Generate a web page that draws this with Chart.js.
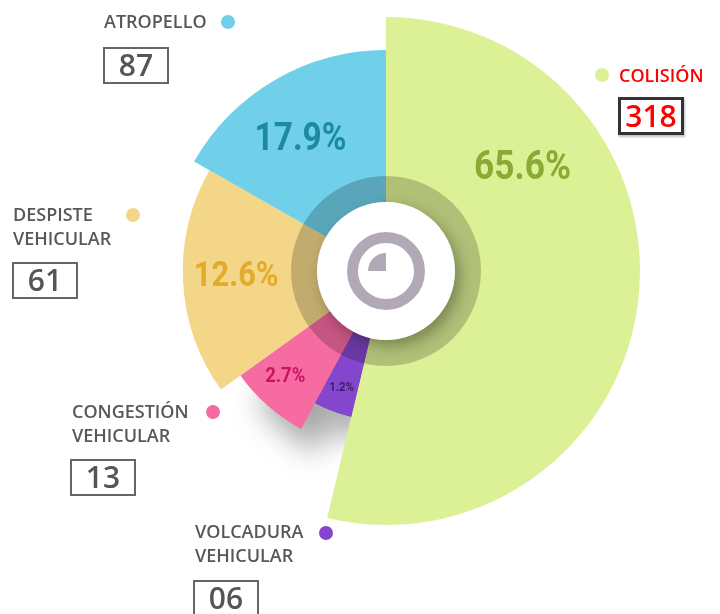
<!DOCTYPE html>
<html>
<head>
<meta charset="utf-8">
<script src="https://cdn.jsdelivr.net/npm/chart.js@4"></script>
<style>
  body { margin: 0; background: #fff; }
  #wrap { position: relative; width: 720px; height: 614px; overflow: hidden; font-family: 'Open Sans', 'Noto Sans', sans-serif; }
  #wrap canvas { position: absolute; left: 0; top: 0; }
  .tag { position: absolute; color: #585858; font-weight: 600; font-size: 18px; line-height: 23.5px; white-space: nowrap; }
  .dot { position: absolute; width: 14px; height: 14px; border-radius: 50%; }
  .box { position: absolute; box-sizing: border-box; width: 66px; height: 37px; border: 2px solid #666; color: #555;
         font-size: 30px; font-weight: 600; line-height: 32px; text-align: center; background: #fff; }
</style>
</head>
<body>
<div id="wrap">
  <canvas id="pie" width="720" height="614"></canvas>
</div>
<script>
// order is clockwise from 12 o'clock, as in the picture
var categories = ['COLISIÓN', 'VOLCADURA\nVEHICULAR', 'CONGESTIÓN\nVEHICULAR', 'DESPISTE\nVEHICULAR', 'ATROPELLO'];
var counts = [318, 6, 13, 61, 87];
var countText = ['318', '06', '13', '61', '87'];

var colors = ['#dcf195', '#8446cc', '#f76ba3', '#f3d687', '#70d0e9'];
var textColors = ['#8aaa34', '#3b1c6b', '#c9135f', '#e2ab2a', '#1e89a2'];

// drawing only: slice sweep (deg), slice reach (share of radius), where the % sits
var sweep = [193.4, 14.9, 26, 65.4, 60.3];
var reach = [1, 0.59, 0.705, 0.8, 0.87];
var pctAngle = [53, 201, 224, 268, 327];
var pctDist = [0.673, 0.488, 0.571, 0.59, 0.618];
var pctSize = [40, 13, 21, 35, 38];

var total = counts.reduce(function (a, b) { return a + b; }, 0);

// callouts around the pie
var callouts = [
  { tag: [619, 64], dot: [595, 68], box: [618, 97], red: true },
  { tag: [195, 520], dot: [319, 526], box: [193, 580] },
  { tag: [72, 400], dot: [206, 405], box: [70, 459] },
  { tag: [13, 203], dot: [126, 208], box: [12, 262] },
  { tag: [104, 10], dot: [221, 15], box: [103, 47] }
];

var wrap = document.getElementById('wrap');
callouts.forEach(function (c, i) {
  var t = document.createElement('div');
  t.className = 'tag';
  t.style.left = c.tag[0] + 'px';
  t.style.top = c.tag[1] + 'px';
  t.innerHTML = categories[i].replace('\n', '<br>');
  if (c.red) t.style.color = '#f00';
  wrap.appendChild(t);

  var d = document.createElement('div');
  d.className = 'dot';
  d.style.left = c.dot[0] + 'px';
  d.style.top = c.dot[1] + 'px';
  d.style.background = colors[i];
  wrap.appendChild(d);

  var b = document.createElement('div');
  b.className = 'box';
  b.style.left = c.box[0] + 'px';
  b.style.top = c.box[1] + 'px';
  b.textContent = countText[i];
  if (c.red) {
    b.style.color = '#f00';
    b.style.border = '3px solid #333';
    b.style.lineHeight = '31px';
    b.style.height = '38px';
    b.style.boxShadow = '1px 2px 2px rgba(0,0,0,0.25)';
  }
  wrap.appendChild(b);
});

var reachPlugin = {
  id: 'reach',
  afterDatasetsUpdate: function (chart) {
    var meta = chart.getDatasetMeta(0);
    var r = meta.rScale.drawingArea;
    meta.data.forEach(function (arc, i) {
      arc.outerRadius = r * reach[i];
    });
  },
  beforeDatasetsDraw: function (chart) {
    // soft shadow under the two small slices
    var ctx = chart.ctx;
    var meta = chart.getDatasetMeta(0);
    ctx.save();
    ctx.shadowColor = 'rgba(0,0,0,0.35)';
    ctx.shadowBlur = 30;
    ctx.shadowOffsetX = 16;
    ctx.shadowOffsetY = 24;
    [1, 2].forEach(function (i) { meta.data[i].draw(ctx); });
    ctx.restore();
  }
};

var hubPlugin = {
  id: 'hub',
  afterDatasetsDraw: function (chart) {
    var ctx = chart.ctx;
    var meta = chart.getDatasetMeta(0);
    var sc = meta.rScale;
    var cx = sc.xCenter, cy = sc.yCenter;

    ctx.save();
    // dark translucent ring
    ctx.beginPath();
    ctx.arc(cx, cy, 95, 0, Math.PI * 2);
    ctx.arc(cx, cy, 69, 0, Math.PI * 2, true);
    ctx.fillStyle = 'rgba(0,0,0,0.2)';
    ctx.fill();

    // white hub with its shadow
    ctx.save();
    ctx.beginPath();
    ctx.arc(cx, cy, 95, 0, Math.PI * 2);
    ctx.clip();
    ctx.shadowColor = 'rgba(0,0,0,0.3)';
    ctx.shadowBlur = 14;
    ctx.shadowOffsetX = 5;
    ctx.shadowOffsetY = 6;
    ctx.beginPath();
    ctx.arc(cx, cy, 69, 0, Math.PI * 2);
    ctx.fillStyle = '#fff';
    ctx.fill();
    ctx.restore();

    // pie icon
    ctx.strokeStyle = '#b1a9b5';
    ctx.fillStyle = '#b1a9b5';
    ctx.lineWidth = 11;
    ctx.beginPath();
    ctx.arc(cx, cy, 33.5, 0, Math.PI * 2);
    ctx.stroke();
    ctx.beginPath();
    ctx.moveTo(cx, cy);
    ctx.arc(cx, cy, 18, -Math.PI, -Math.PI / 2);
    ctx.closePath();
    ctx.fill();

    // percentages
    ctx.textAlign = 'center';
    ctx.textBaseline = 'middle';
    counts.forEach(function (v, i) {
      var a = pctAngle[i] * Math.PI / 180;
      var d = pctDist[i] * sc.drawingArea;
      ctx.save();
      ctx.translate(cx + d * Math.sin(a), cy - d * Math.cos(a) + 1);
      ctx.scale(0.88, 1);
      ctx.font = 'bold ' + pctSize[i] + 'px Roboto, sans-serif';
      ctx.fillStyle = textColors[i];
      ctx.fillText((v / total * 100).toFixed(1) + '%', 0, 0);
      ctx.restore();
    });
    ctx.restore();
  }
};

var chart = new Chart(document.getElementById('pie'), {
  type: 'polarArea',
  data: {
    labels: categories,
    datasets: [{
      data: counts,
      backgroundColor: colors,
      borderWidth: 0,
      angle: function (c) { return sweep[c.dataIndex]; }
    }]
  },
  options: {
    responsive: false,
    animation: false,
    layout: { padding: { left: 132, top: 17, right: 80, bottom: 89 } },
    scales: { r: { display: false } },
    plugins: { legend: { display: false }, tooltip: { enabled: false } }
  },
  plugins: [reachPlugin, hubPlugin]
});
</script>
</body>
</html>
